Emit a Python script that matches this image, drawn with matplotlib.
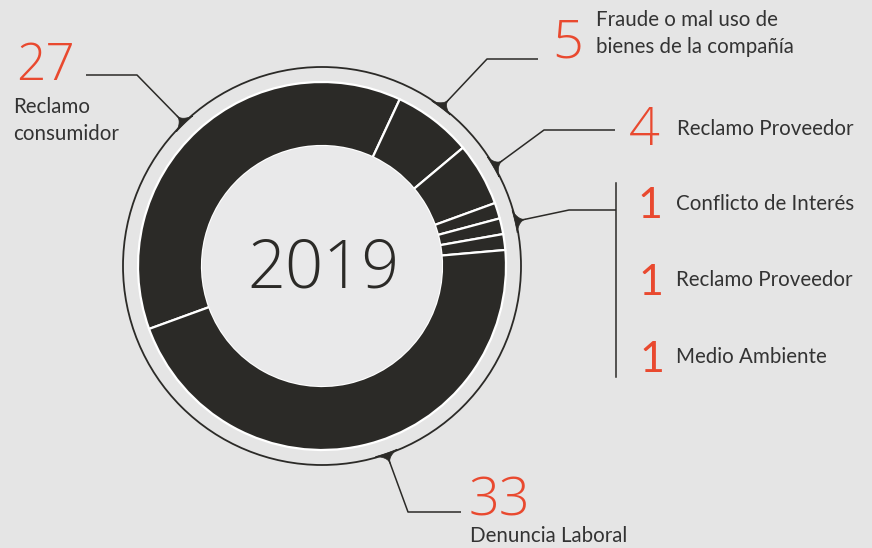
import numpy as np
import matplotlib.pyplot as plt
from matplotlib.patches import Circle, Polygon

# data
values = [27, 5, 4, 1, 1, 1, 33]
year = "2019"
numbers = ["27", "5", "4", "1", "1", "1", "33"]
labels = ["Reclamo\nconsumidor", "Fraude o mal uso de\nbienes de la compañía", "Reclamo Proveedor",
          "Conflicto de Interés", "Reclamo Proveedor", "Medio Ambiente", "Denuncia Laboral"]

BG = "#e5e5e5"
DARK = "#2b2a27"
RED = "#e9492f"
TXT = "#333333"
H = 548

def Y(y):  # image y (from top) -> axes y
    return H - y

fig = plt.figure(figsize=(8.72, 5.48), dpi=100, facecolor=BG)
ax = fig.add_axes([0, 0, 1, 1])

cx, cy = 322, Y(266)
ax.pie(values, radius=184, center=(cx, cy), startangle=200, counterclock=False,
       colors=[DARK] * len(values), frame=True,
       wedgeprops=dict(width=64, edgecolor="white", linewidth=1.6))
ax.set_xlim(0, 872)
ax.set_ylim(0, H)
ax.set_aspect("equal")
ax.axis("off")
ax.add_patch(Circle((cx, cy), 120, facecolor="#e9e9ea", edgecolor="none", zorder=3))
ax.add_patch(Circle((cx, cy), 199, fill=False, edgecolor=DARK, linewidth=1.3, zorder=3))

ax.text(cx + 1, Y(288), year, ha="center", va="baseline", fontsize=48, color=DARK,
        family="Open Sans", weight="light", zorder=4)

# connector pins (angle on outer ring) and polylines
R = 199
pins = [134, 53, 30, 13, -71]
paths = [[(137, 75), (86, 75)],
         [(487, 59), (538, 59)],
         [(544, 130), (615, 130)],
         [(569, 210), (616, 210)],
         [(408, 512), (461, 512)]]

for ang, pts in zip(pins, paths):
    a = np.radians(ang)
    px, py = cx + R * np.cos(a), cy + R * np.sin(a)
    xs = [px] + [p[0] for p in pts]
    ys = [py] + [Y(p[1]) for p in pts]
    ax.plot(xs, ys, color=DARK, lw=1.1, zorder=3, solid_capstyle="butt")
    # small tapered pin where the line meets the ring, with concave sides
    d = np.array([xs[1] - px, ys[1] - py])
    d = d / np.hypot(*d)
    da = np.radians(3.3)
    ring = [(cx + (R - 1) * np.cos(a + s * da), cy + (R - 1) * np.sin(a + s * da))
            for s in np.linspace(-1, 1, 15)]
    tip = np.array([px + d[0] * 10, py + d[1] * 10])
    mid = np.array([px + d[0] * 3, py + d[1] * 3])
    u = np.linspace(0, 1, 10)
    end = np.array(ring[-1])
    side1 = [tuple((1 - t) ** 2 * end + 2 * (1 - t) * t * mid + t ** 2 * tip) for t in u]
    start = np.array(ring[0])
    side2 = [tuple((1 - t) ** 2 * tip + 2 * (1 - t) * t * mid + t ** 2 * start) for t in u]
    ax.add_patch(Polygon(ring + side1 + side2, closed=True, facecolor=DARK,
                         edgecolor=DARK, lw=0.5, zorder=3))

ax.plot([616, 616], [Y(183), Y(377)], color=DARK, lw=1.1, zorder=3)

# numbers
num_pos = [(16, 80, 37), (552, 57, 39), (629, 145, 39),
           (637, 218, 31), (638, 295, 31), (639, 372, 31), (469, 515, 39)]
for s, (x, y, fs) in zip(numbers, num_pos):
    if s == "1":
        ax.text(x, Y(y), s, ha="left", va="baseline", fontsize=fs, color=RED,
                family="Lato")
    else:
        ax.text(x, Y(y), s, ha="left", va="baseline", fontsize=fs, color=RED,
                family="Open Sans", weight="light")

lab_pos = [(13, 113), (596, 26), (677, 135), (676, 210), (676, 286), (676, 363), (470, 542)]
for s, (x, y) in zip(labels, lab_pos):
    for i, ln in enumerate(s.split("\n")):
        ax.text(x, Y(y + 27 * i), ln, ha="left", va="baseline", fontsize=14.8,
                color=TXT, family="Lato")

fig.savefig("out.png", dpi=100, facecolor=BG)
